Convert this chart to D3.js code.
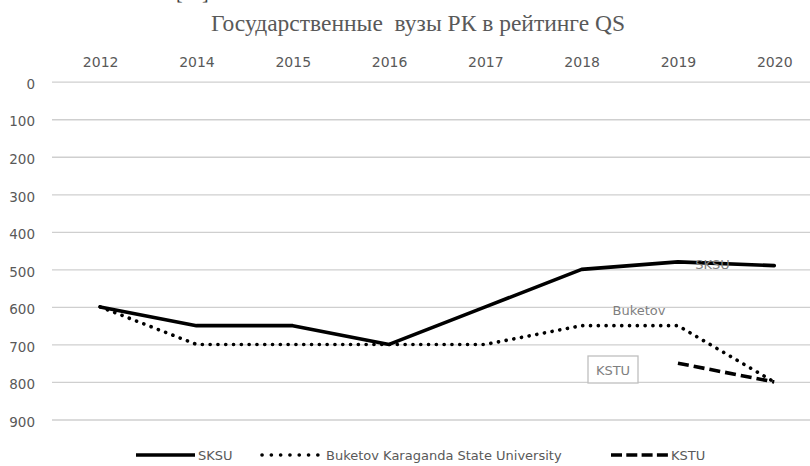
<!DOCTYPE html>
<html><head><meta charset="utf-8">
<script src="https://cdn.jsdelivr.net/npm/d3@7"></script>
<style>body{margin:0;background:#fff}svg{display:block}</style>
</head><body><svg id="c" width="810" height="466"></svg>
<script>
const years = ["2012","2014","2015","2016","2017","2018","2019","2020"];
const sksu = [600,650,650,700,600,500,480,490];
const buketov = [600,700,700,700,700,650,650,800];
const kstu = [null,null,null,null,null,null,750,800];
const yTicks = [0,100,200,300,400,500,600,700,800,900];
const seriesNames = ["SKSU","Buketov Karaganda State University","KSTU"];
const title = "Государственные  вузы РК в рейтинге QS";

(function(){
const svg = d3.select("#c");
const pl = 52, pr = 822.4, pt = 81.7, pb = 419.5;
const x = d3.scalePoint().domain(years).range([pl, pr]).padding(0.5);
const y = d3.scaleLinear().domain([0, 900]).range([pt, pb]);
const font = "'DejaVu Sans', sans-serif";
const tickCol = "#595959", lblCol = "#7f7f7f";

// cropped fragment of a preceding line, visible at the very top edge
svg.append("text").attr("x", 176).attr("y", -1).attr("font-family","'Liberation Serif', serif")
  .attr("font-size", 20).attr("fill", "#404040").text("[11]");

svg.append("text").attr("x", 418).attr("y", 31).attr("text-anchor","middle")
  .attr("font-family","'Liberation Serif', 'Times New Roman', serif").attr("font-size", 23.5)
  .attr("fill","#595959").attr("xml:space","preserve").text(title);

// grid + y labels
const yAxis = d3.axisLeft(y).tickValues(yTicks).tickSize(-(pr-pl)).tickPadding(17);
const gy = svg.append("g").attr("transform", `translate(${pl},0)`).call(yAxis);
gy.select(".domain").remove();
gy.selectAll(".tick line").attr("stroke","#cfcfcf").attr("stroke-width",1.3);
gy.selectAll(".tick text").attr("fill",tickCol).attr("font-family",font).attr("font-size",13.5)
  .attr("dy","0.5em").attr("x",-17);

// x labels on top
const xAxis = d3.axisTop(x).tickSize(0).tickPadding(0);
const gx = svg.append("g").attr("transform", `translate(0,67)`).call(xAxis);
gx.select(".domain").remove();
gx.selectAll(".tick text").attr("fill",tickCol).attr("font-family",font).attr("font-size",14).attr("dy",0);

const line = d3.line().defined(d => d != null).x((d,i) => x(years[i])).y(d => y(d));
const styles = [
  {v: sksu, dash: null, w: 3.6, cap: "round"},
  {v: buketov, dash: "0.1 7.7", w: 3.6, cap: "round"},
  {v: kstu, dash: "11 5", w: 3.6, cap: "butt"}
];
styles.forEach(s => {
  svg.append("path").datum(s.v).attr("d", line).attr("fill","none").attr("stroke","#000")
    .attr("stroke-width", s.w).attr("stroke-linecap", s.cap).attr("stroke-linejoin","round")
    .attr("stroke-dasharray", s.dash);
});

// data labels
svg.append("text").attr("x", 712.5).attr("y", 268.5).attr("text-anchor","middle")
  .attr("font-family",font).attr("font-size",13).attr("fill",lblCol).text("SKSU");
svg.append("text").attr("x", 639).attr("y", 315).attr("text-anchor","middle")
  .attr("font-family",font).attr("font-size",13).attr("fill",lblCol).text("Buketov");
svg.append("rect").attr("x", 588).attr("y", 356).attr("width", 50).attr("height", 27)
  .attr("fill","#fff").attr("stroke","#bfbfbf").attr("stroke-width",1.3);
svg.append("text").attr("x", 613).attr("y", 375).attr("text-anchor","middle")
  .attr("font-family",font).attr("font-size",13).attr("fill",lblCol).text("KSTU");

// legend
const legend = [
  {name:seriesNames[0], x0:136, x1:195, dash:null, cap:"butt", tx:198},
  {name:seriesNames[1], x0:262, x1:318, dash:"0.1 9.2", cap:"round", tx:326},
  {name:seriesNames[2], x0:611, x1:668, dash:"11 4.3", cap:"butt", tx:671}
];
legend.forEach(l => {
  svg.append("line").attr("x1",l.x0).attr("x2",l.x1).attr("y1",455).attr("y2",455)
    .attr("stroke","#000").attr("stroke-width",3.6).attr("stroke-linecap",l.cap).attr("stroke-dasharray",l.dash);
  svg.append("text").attr("x", l.tx).attr("y", 460).attr("font-family",font).attr("font-size",13)
    .attr("fill",tickCol).text(l.name);
});
})();
</script></body></html>
